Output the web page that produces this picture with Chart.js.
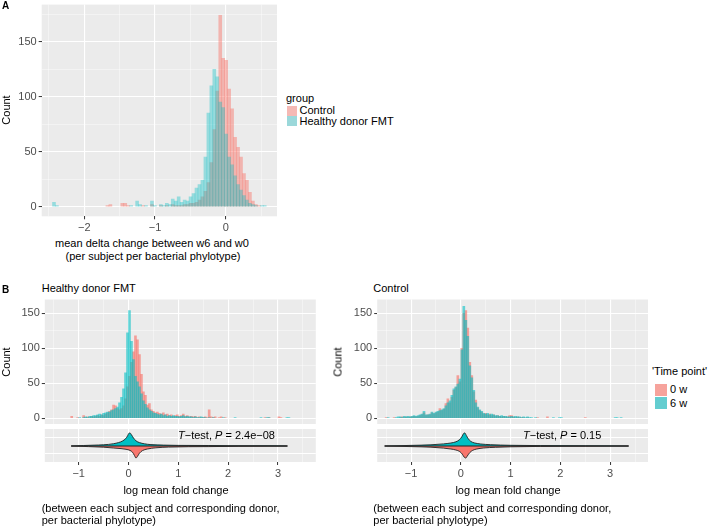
<!DOCTYPE html>
<html>
<head>
<meta charset="utf-8">
<script src="https://cdn.jsdelivr.net/npm/chart.js@4.4.1/dist/chart.umd.min.js"></script>
<style>
html, body { margin: 0; padding: 0; background: #fff; }
body { width: 709px; height: 527px; position: relative; overflow: hidden; font-family: "Liberation Sans", Arial, sans-serif; color: #000; }
canvas { position: absolute; }
.t { position: absolute; font-size: 11px; line-height: 13px; white-space: nowrap; }
.b { font-weight: bold; font-size: 10px; line-height: 12px; }
.c { transform: translateX(-50%); }
.rot { transform: translate(-50%, -50%) rotate(-90deg); }
.sw { position: absolute; }
</style>
</head>
<body>
<canvas id="histA" width="282" height="236" style="left:0;top:0"></canvas>
<canvas id="histFmt" width="320" height="129" style="left:0;top:295px"></canvas>
<canvas id="histCtl" width="312" height="129" style="left:340px;top:295px"></canvas>
<canvas id="vioFmt" width="320" height="62" style="left:0;top:425px"></canvas>
<canvas id="vioCtl" width="312" height="62" style="left:340px;top:425px"></canvas>

<div class="t b" style="left:2px;top:0">A</div>
<div class="t rot" style="left:6px;top:110px">Count</div>
<div class="t c" style="left:152px;top:236.5px">mean delta change between w6 and w0</div>
<div class="t c" style="left:153px;top:250px">(per subject per bacterial phylotype)</div>
<div class="t" style="left:286px;top:91.5px">group</div>
<div class="sw" style="left:287px;top:106px;width:10px;height:10px;background:#F5B9B4"></div>
<div class="sw" style="left:287px;top:116px;width:10px;height:10px;background:#9BD8DA"></div>
<div class="t" style="left:299.5px;top:104px">Control</div>
<div class="t" style="left:299.5px;top:114.5px">Healthy donor FMT</div>

<div class="t b" style="left:2px;top:283.5px">B</div>
<div class="t" style="left:41.7px;top:282px">Healthy donor FMT</div>
<div class="t" style="left:373.3px;top:282px">Control</div>
<div class="t rot" style="left:6px;top:362px">Count</div>
<div class="t rot" style="left:338px;top:362px">Count</div>
<div class="t" style="left:178px;top:428.5px"><i>T</i>&minus;test, <i>P</i> = 2.4e&minus;08</div>
<div class="t" style="left:523px;top:428.5px"><i>T</i>&minus;test, <i>P</i> = 0.15</div>
<div class="t c" style="left:176px;top:483.5px">log mean fold change</div>
<div class="t c" style="left:508px;top:483.5px">log mean fold change</div>
<div class="t" style="left:41.7px;top:501.8px">(between each subject and corresponding donor,</div>
<div class="t" style="left:41.7px;top:514.2px">per bacterial phylotype)</div>
<div class="t" style="left:373.3px;top:501.8px">(between each subject and corresponding donor,</div>
<div class="t" style="left:373.3px;top:514.2px">per bacterial phylotype)</div>
<div class="t" style="left:652px;top:365px">'Time point'</div>
<div class="sw" style="left:654.5px;top:383.5px;width:12px;height:12px;background:#F6A39C"></div>
<div class="sw" style="left:654.5px;top:397px;width:12px;height:12px;background:#63CDD0"></div>
<div class="t" style="left:670px;top:383px">0 w</div>
<div class="t" style="left:670px;top:396.5px">6 w</div>

<script>
// panel A: histogram of mean delta change, bins of 0.042 starting at -2.45
const binStartA = -2.45;
const binWidthA = 0.042;
const controlA = [
  0, 0, 0, 0, 0, 0, 0, 0, 0, 0,
  0, 0, 0, 0, 0, 0, 0, 0, 1, 2,
  0, 0, 0, 3, 3, 1, 0, 0, 0, 0,
  1, 0, 0, 2, 0, 0, 1, 0, 1, 0,
  2, 1, 1, 1, 2, 2, 3, 3, 4, 6,
  9, 14, 22, 40, 70, 105, 174, 135, 133, 107,
  89, 63, 54, 45, 30, 24, 13, 5, 2, 1,
  0, 0
];
const healthyA = [
  4, 1, 0, 0, 0, 0, 0, 0, 0, 0,
  0, 0, 0, 0, 0, 0, 0, 0, 0, 0,
  0, 0, 0, 0, 0, 0, 1, 0, 5, 2,
  0, 1, 0, 5, 1, 0, 2, 1, 3, 2,
  7, 5, 9, 4, 6, 5, 9, 12, 17, 20,
  24, 45, 85, 110, 125, 118, 95, 90, 66, 45,
  38, 28, 20, 15, 10, 6, 3, 2, 1, 0,
  1, 1
];

// panel B: log mean fold change, bins of 0.04 starting at -1.52
const binStartB = -1.52;
const binWidthB = 0.04;
const fmt0w = [
  0, 0, 0, 0, 0, 0, 0, 0, 0, 3,
  0, 0, 1, 0, 0, 4, 1, 2, 1, 3,
  2, 3, 4, 3, 5, 4, 6, 8, 10, 12,
  19, 18, 14, 12, 14, 18, 28, 45, 60, 80,
  95, 118, 112, 91, 63, 38, 33, 19, 21, 12,
  10, 8, 9, 7, 6, 8, 5, 6, 4, 5,
  3, 4, 5, 3, 4, 6, 3, 4, 2, 3,
  2, 3, 1, 2, 1, 1, 2, 1, 12, 2,
  1, 2, 0, 1, 2, 0, 1, 0, 0, 0,
  0, 0, 0, 0, 0, 0, 0, 0, 0, 0,
  0, 0, 0, 0, 0, 0, 1, 0, 1, 0,
  0, 0, 0, 2, 1, 0, 0, 0, 0, 0,
  0, 0, 0, 0
];
const fmt6w = [
  0, 0, 0, 0, 0, 0, 0, 0, 0, 0,
  0, 0, 0, 1, 0, 1, 2, 1, 3, 3,
  4, 4, 5, 6, 5, 7, 8, 9, 9, 11,
  12, 14, 16, 22, 30, 42, 65, 122, 154, 110,
  84, 60, 52, 45, 35, 25, 20, 15, 12, 10,
  8, 7, 6, 5, 6, 4, 5, 3, 4, 3,
  4, 3, 3, 2, 3, 4, 2, 3, 2, 2,
  1, 2, 1, 1, 2, 1, 1, 0, 1, 0,
  1, 0, 0, 0, 0, 1, 0, 0, 0, 0,
  0, 1, 0, 0, 0, 0, 0, 0, 0, 0,
  0, 0, 0, 0, 1, 0, 0, 1, 1, 0,
  0, 0, 0, 0, 0, 0, 0, 1, 1, 0,
  0, 0, 0, 0
];
const ctl0w = [
  1, 0, 0, 0, 1, 0, 0, 1, 2, 1,
  2, 1, 2, 2, 3, 2, 3, 4, 5, 8,
  4, 5, 5, 8, 6, 8, 9, 14, 11, 13,
  21, 28, 22, 30, 40, 44, 61, 52, 100, 150,
  154, 129, 80, 61, 38, 26, 15, 11, 9, 6,
  7, 5, 6, 4, 5, 3, 4, 3, 2, 3,
  2, 2, 4, 4, 2, 1, 2, 1, 1, 1,
  0, 1, 0, 0, 0, 0, 1, 0, 0, 0,
  0, 2, 0, 0, 0, 0, 0, 0, 0, 0,
  0, 0, 0, 0, 0, 0, 0, 0, 0, 0,
  1, 0, 0, 0, 0, 0, 0, 0, 0, 0,
  0, 0, 0, 0, 0, 0, 0, 0, 0, 0,
  0, 0, 0, 0
];
const ctl6w = [
  0, 1, 0, 0, 0, 1, 2, 2, 1, 3,
  2, 3, 2, 3, 4, 3, 4, 5, 6, 10,
  5, 5, 6, 9, 7, 9, 10, 11, 12, 14,
  18, 22, 25, 33, 42, 45, 49, 56, 98, 160,
  140, 117, 75, 58, 40, 22, 16, 12, 10, 7,
  6, 7, 5, 6, 5, 4, 4, 3, 4, 3,
  3, 2, 2, 3, 2, 3, 2, 2, 1, 2,
  1, 2, 1, 1, 0, 1, 0, 0, 0, 0,
  0, 0, 0, 0, 1, 0, 0, 1, 1, 0,
  0, 0, 0, 0, 0, 0, 0, 0, 0, 0,
  0, 0, 0, 0, 0, 0, 0, 0, 0, 0,
  0, 0, 0, 0, 0, 1, 1, 0, 1, 0,
  0, 0, 0, 0
];

// split violins (height of each half in strip units)
const fmtVioX6 = [-1.15, -0.9, -0.6, -0.4, -0.3, -0.2, -0.12, -0.06, -0.02, 0.01, 0.03, 0.06, 0.1, 0.15, 0.22, 0.32, 0.45, 0.7, 1.0, 1.6, 2.0, 2.8, 3.19];
const fmtVio6w = [0, 0.5, 1, 1.6, 2.3, 3.4, 5, 7.2, 10, 12.8, 13, 11.2, 8, 5.2, 3.4, 2.2, 1.4, 0.9, 0.6, 0.5, 0.3, 0.2, 0];
const fmtVioX0 = [-1.15, -0.8, -0.5, -0.3, -0.15, -0.05, 0.03, 0.08, 0.12, 0.15, 0.18, 0.22, 0.28, 0.38, 0.55, 0.8, 1.2, 1.6, 2.2, 3.19];
const fmtVio0w = [0, -0.6, -1.2, -2, -2.6, -3.3, -4.4, -6.2, -9.5, -12, -10.4, -7.2, -4.6, -3, -1.8, -1.1, -0.7, -0.6, -0.3, 0];
const ctlVioX6 = [-1.53, -1.0, -0.6, -0.35, -0.2, -0.1, -0.03, 0.02, 0.06, 0.08, 0.11, 0.15, 0.2, 0.28, 0.4, 0.6, 1.0, 1.6, 2.5, 3.37];
const ctlVio6w = [0, 0.6, 1.2, 2.1, 3, 4.2, 6.2, 9.2, 12.7, 13, 10.6, 7.2, 4.6, 3, 2, 1.3, 0.7, 0.4, 0.2, 0];
const ctlVioX0 = [-1.53, -1.0, -0.6, -0.35, -0.2, -0.1, -0.02, 0.03, 0.07, 0.1, 0.13, 0.18, 0.24, 0.32, 0.45, 0.7, 1.0, 1.6, 2.5, 3.37];
const ctlVio0w = [0, -0.6, -1.2, -2.1, -3, -4, -5.6, -8.2, -11.3, -12, -10, -6.6, -4.3, -3, -2, -1.3, -0.8, -0.4, -0.2, 0];
const fmtRange = [-1.15, 3.19];
const ctlRange = [-1.53, 3.37];

// axes
const xTicksA = [-2.5, -2, -1.5, -1, -0.5, 0, 0.5];
const yTicksA = [0, 25, 50, 75, 100, 125, 150, 175];
const xTicksB = [-1.5, -1, -0.5, 0, 0.5, 1, 1.5, 2, 2.5, 3, 3.5];
const yTicksB = [0, 25, 50, 75, 100, 125, 150];
const yTicksVio = [-8, 8];

const RED_A = "rgba(248,118,109,0.47)";
const TEAL_A = "rgba(0,191,196,0.36)";
const RED_B = "rgba(248,118,109,0.65)";
const TEAL_B = "rgba(0,191,196,0.58)";

Chart.defaults.font.family = "'Liberation Sans', Arial, sans-serif";
Chart.defaults.font.size = 11;
Chart.defaults.color = "#4D4D4D";
Chart.defaults.animation = false;
Chart.defaults.plugins.legend.display = false;
Chart.defaults.plugins.tooltip.enabled = false;

// grey panel background like ggplot
Chart.register({
  id: "panelBg",
  beforeDraw(chart) {
    const a = chart.chartArea;
    const ctx = chart.ctx;
    ctx.save();
    ctx.fillStyle = "#EBEBEB";
    ctx.fillRect(a.left, a.top, a.right - a.left, a.bottom - a.top);
    ctx.restore();
  }
});

const isInt = v => Math.abs(v - Math.round(v)) < 1e-9;
const isFifty = v => Math.abs(v % 50) < 1e-9;
const allMajor = () => true;
const label = v => String(v).replace("-", "\u2212");

function axis(range, ticks, major, size, showLabels) {
  return {
    type: "linear",
    min: range[0],
    max: range[1],
    offset: false,
    afterBuildTicks: s => { s.ticks = ticks.map(v => ({ value: v })); },
    afterFit: s => {
      if (s.isHorizontal()) s.height = size; else s.width = size;
      s.paddingTop = 0; s.paddingBottom = 0; s.paddingLeft = 0; s.paddingRight = 0;
    },
    border: { display: false },
    grid: {
      offset: false,
      drawTicks: showLabels,
      tickLength: 3,
      tickWidth: 1,
      color: c => (c.tick && major(c.tick.value)) ? "#FFFFFF" : "rgba(255,255,255,0.75)",
      lineWidth: c => (c.tick && major(c.tick.value)) ? 1.1 : 0.55,
      tickColor: c => (c.tick && major(c.tick.value)) ? "#333333" : "rgba(0,0,0,0)"
    },
    ticks: {
      display: showLabels,
      autoSkip: false,
      maxRotation: 0,
      minRotation: 0,
      padding: 2,
      callback: v => major(v) ? label(v) : ""
    }
  };
}

// empty bins are left out so they draw nothing
function bars(counts, start, width, color) {
  return {
    type: "bar",
    data: counts.map((c, i) => ({ x: start + (i + 0.5) * width, y: c === 0 ? null : c })),
    backgroundColor: color,
    borderWidth: 0,
    barPercentage: 1,
    categoryPercentage: 1,
    grouped: false
  };
}

function half(xs, hs, color) {
  return {
    data: xs.map((x, i) => ({ x: x, y: hs[i] })),
    borderColor: "#222222",
    borderWidth: 0.9,
    backgroundColor: color,
    fill: "origin",
    pointRadius: 0,
    cubicInterpolationMode: "monotone"
  };
}

// panel A
new Chart(document.getElementById("histA"), {
  type: "bar",
  data: { datasets: [
    bars(healthyA, binStartA, binWidthA, TEAL_A),
    bars(controlA, binStartA, binWidthA, RED_A)
  ] },
  options: {
    responsive: false,
    layout: { padding: { top: 4.6, right: 5, left: 0, bottom: 0 } },
    scales: {
      x: axis([-2.603, 0.726], xTicksA, isInt, 19.7, true),
      y: axis([-8.75, 183.75], yTicksA, isFifty, 41.7, true)
    }
  }
});

// panel B histograms
function histB(id, c0, c6, yWidth, rightPad) {
  new Chart(document.getElementById(id), {
    type: "bar",
    data: { datasets: [
      bars(c6, binStartB, binWidthB, TEAL_B),
      bars(c0, binStartB, binWidthB, RED_B)
    ] },
    options: {
      responsive: false,
      layout: { padding: { top: 4.5, right: rightPad, left: 0, bottom: 0 } },
      scales: {
        x: axis([-1.68, 3.76], xTicksB, isInt, 0, false),
        y: axis([-8.08, 169.7], yTicksB, isFifty, yWidth, true)
      }
    }
  });
}
histB("histFmt", fmt0w, fmt6w, 44.8, 4.2);
histB("histCtl", ctl0w, ctl6w, 37.2, 4);

// panel B split violins
function violin(id, x6, h6, x0, h0, range, yWidth, rightPad) {
  new Chart(document.getElementById(id), {
    type: "line",
    data: { datasets: [
      { data: [{ x: range[0], y: 0 }, { x: range[1], y: 0 }], borderColor: "#222222", borderWidth: 1.2, pointRadius: 0, fill: false },
      half(x6, h6, "#00BFC4"),
      half(x0, h0, "#F8766D")
    ] },
    options: {
      responsive: false,
      layout: { padding: { top: 4, right: rightPad, left: 0, bottom: 0 } },
      scales: {
        x: axis([-1.68, 3.76], xTicksB, isInt, 25, true),
        y: axis([-16, 17], yTicksVio, allMajor, yWidth, false)
      }
    }
  });
}
violin("vioFmt", fmtVioX6, fmtVio6w, fmtVioX0, fmtVio0w, fmtRange, 44.8, 4.2);
violin("vioCtl", ctlVioX6, ctlVio6w, ctlVioX0, ctlVio0w, ctlRange, 37.2, 4);
</script>
</body>
</html>
